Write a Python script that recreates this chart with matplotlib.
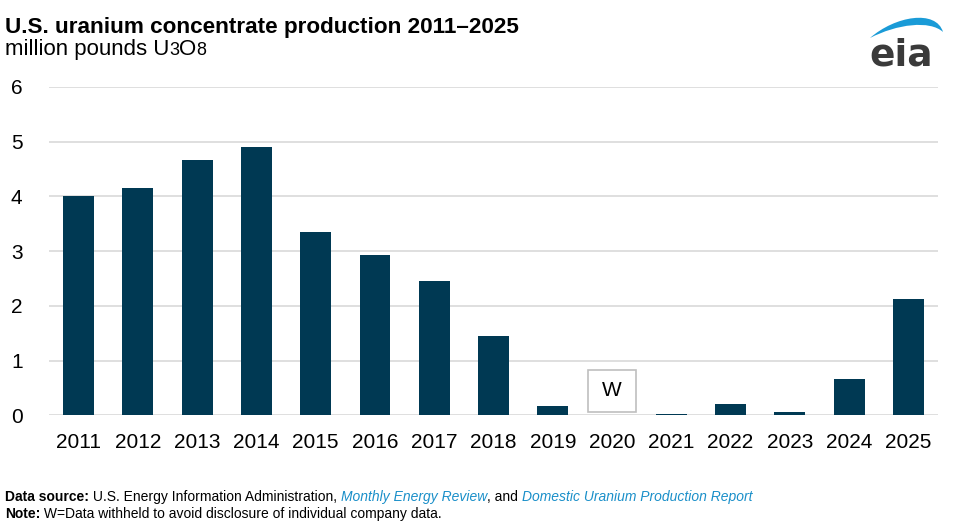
import matplotlib
matplotlib.use("Agg")
import matplotlib.pyplot as plt
from matplotlib.path import Path
from matplotlib.patches import PathPatch, Rectangle
import numpy as np

years = ["2011", "2012", "2013", "2014", "2015", "2016", "2017", "2018",
         "2019", "2020", "2021", "2022", "2023", "2024", "2025"]
production = [4.00, 4.16, 4.67, 4.90, 3.35, 2.93, 2.45, 1.45,
              0.17, np.nan, 0.03, 0.20, 0.06, 0.67, 2.12]
withheld_year = "2020"
withheld_label = "W"
y_ticks = [0, 1, 2, 3, 4, 5, 6]

plt.rcParams['font.family'] = ['Liberation Sans', 'DejaVu Sans']

W, H = 980, 526
fig = plt.figure(figsize=(W / 100, H / 100), dpi=100)
ax = fig.add_axes([49 / W, 1 - 415.3 / H, (938 - 49) / W, (415.3 - 87) / H])

x = np.arange(len(years))
vals = np.array(production, dtype=float)
ax.bar(x, np.nan_to_num(vals), width=0.52, color="#003953", zorder=3)

ax.set_xlim(-0.5, len(years) - 0.5)
ax.set_ylim(0, 6)
ax.set_yticks(y_ticks)
ax.set_yticklabels([str(t) for t in y_ticks], fontsize=15)
ax.set_xticks(x)
ax.set_xticklabels(years, fontsize=15)
ax.tick_params(axis='both', length=0, colors='black')
ax.tick_params(axis='y', pad=19)
ax.tick_params(axis='x', pad=13)
ax.grid(axis='y', color='#d9d9d9', linewidth=1.2, zorder=0)
for s in ax.spines.values():
    s.set_visible(False)

# Withheld marker box
wi = years.index(withheld_year)
bw, bh, by = 0.81, 0.76, 0.065
ax.add_patch(Rectangle((wi - bw / 2, by), bw, bh, facecolor='white',
                       edgecolor='#bfbfbf', linewidth=1.2, zorder=4))
ax.text(wi, by + bh / 2, withheld_label, ha='center', va='center',
        fontsize=15, zorder=5)

# Title and subtitle
fig.text(5 / W, 1 - 33 / H, "U.S. uranium concentrate production 2011–2025",
         fontsize=16.2, fontweight='bold', ha='left', va='baseline')
sub_y = 1 - 55 / H
t1 = fig.text(5 / W, sub_y, "million pounds U", fontsize=16, ha='left', va='baseline')
fig.canvas.draw()
t2 = fig.text(t1.get_window_extent().x1 / W, sub_y, "3", fontsize=13, ha='left', va='baseline')
fig.canvas.draw()
t3 = fig.text(t2.get_window_extent().x1 / W, sub_y, "O", fontsize=16, ha='left', va='baseline')
fig.canvas.draw()
fig.text(t3.get_window_extent().x1 / W, sub_y, "8", fontsize=13, ha='left', va='baseline')

# Footer
foot_fam = ['Liberation Sans Narrow', 'Liberation Sans', 'DejaVu Sans']
y1 = 1 - 501 / H
y2 = 1 - 518 / H
parts1 = [("Data source:", 'bold', 'black', 'normal'),
          (" U.S. Energy Information Administration, ", 'normal', 'black', 'normal'),
          ("Monthly Energy Review", 'normal', '#1a8fc9', 'italic'),
          (", and ", 'normal', 'black', 'normal'),
          ("Domestic Uranium Production Report", 'normal', '#1a8fc9', 'italic')]
parts2 = [("Note:", 'bold', 'black', 'normal'),
          (" W=Data withheld to avoid disclosure of individual company data.", 'normal', 'black', 'normal')]
for parts, yy in ((parts1, y1), (parts2, y2)):
    xx = 5 / W
    for txt, wt, col, st in parts:
        t = fig.text(xx, yy, txt, fontsize=10, fontweight=wt, color=col,
                     style=st, family=foot_fam, ha='left', va='baseline')
        fig.canvas.draw()
        xx = t.get_window_extent().x1 / W

# eia logo
def P(px, py):
    return (px / W, 1 - py / H)

verts = [P(870, 38), P(895, 16), P(936, 9), P(943, 32),
         P(930, 20), P(897, 24), P(870, 38), P(870, 38)]
codes = [Path.MOVETO, Path.CURVE4, Path.CURVE4, Path.CURVE4,
         Path.CURVE4, Path.CURVE4, Path.CURVE4, Path.CLOSEPOLY]
fig.patches.append(PathPatch(Path(verts, codes), facecolor='#1a9bd7',
                             edgecolor='none', transform=fig.transFigure))
fig.text(901 / W, 1 - 66 / H, "eia", fontsize=27, fontweight='bold',
         family='DejaVu Sans', color='#3a3a3a', ha='center', va='baseline')

fig.savefig("out.png", dpi=100)
